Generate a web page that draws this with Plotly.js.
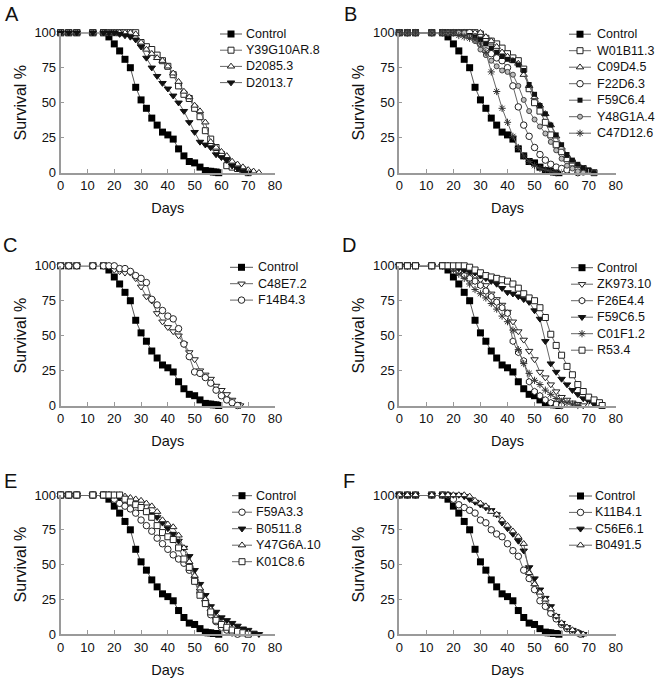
<!DOCTYPE html>
<html><head><meta charset="utf-8">
<script src="https://cdn.plot.ly/plotly-3.0.1.min.js"></script>
<style>html,body{margin:0;padding:0;background:#fff}</style>
</head><body><div id="chart" style="width:659px;height:679px"></div>
<script>
// ---- day grids ----
const daysCtrl = [0,3,6,12,16,18,20,22,24,26,28,30,32,34,36,38,40,42,44,46,48,50,52,54,55,56,57,58,59];
const days58 = [0,3,6,12,16,18,20,22,24,26,28,30,32,34,36,38,40,42,44,46,48,50,52,54,56,58];
const days60 = [0,3,6,12,16,18,20,22,24,26,28,30,32,34,36,38,40,42,44,46,48,50,52,54,56,58,60];
const days66 = [0,3,6,12,16,18,20,22,24,26,28,30,32,34,36,38,40,42,44,46,48,50,52,54,56,58,60,62,64,66];
const days67 = [0,3,6,12,16,18,20,22,24,26,28,30,32,34,36,38,40,42,44,46,48,50,52,54,56,58,60,62,64,66,67];
const days68 = [0,3,6,12,16,18,20,22,24,26,28,30,32,34,36,38,40,42,44,46,48,50,52,54,56,58,60,62,64,66,68];
const days70 = [0,3,6,12,16,18,20,22,24,26,28,30,32,34,36,38,40,42,44,46,48,50,52,54,56,58,60,62,64,66,68,70];
const days72 = [0,3,6,12,16,18,20,22,24,26,28,30,32,34,36,38,40,42,44,46,48,50,52,54,56,58,60,62,64,66,68,70,72];
const days74 = [0,3,6,12,16,18,20,22,24,26,28,30,32,34,36,38,40,42,44,46,48,50,52,54,56,58,60,62,64,66,68,70,72,74];
const days75 = [0,3,6,12,16,18,20,22,24,26,28,30,32,34,36,38,40,42,44,46,48,50,52,54,56,58,60,62,64,66,68,70,72,74,75];

// ---- survival (%) ----
const survControl = [100,100,100,100,100,97,92,87,81,75,61,52,46,39,34,29,27,24,17,12,8,7,4,1.5,1,1,0.5,0.5,0];
// Panel A
const survY39G10AR8 = [100,100,100,100,100,100,100,100,100,100,100,93,90,88,84,80,76,70,62,56,53,46,40,30,24,18,13,5,4,3,2,0];
const survD20853 = [100,100,100,100,100,100,100,100,100,100,99,93,88,85,82,80,76,71,65,58,54,48,44,36,22,18,15,12,8,6,4,2,1,0];
const survD20137 = [100,100,100,100,100,100,100,99,98,97,95,90,82,75,69,64,60,55,50,44,36,29,22,20,18,13,11,9,5,3,1,0];
// Panel B
const survW01B113 = [100,100,100,100,100,100,100,100,100,100,100,99,96,94,92,89,85,82,80,74,60,50,44,36,27,20,15,10,7,4,3,1,0];
const survC09D45 = [100,100,100,100,100,100,100,100,100,100,100,100,97,94,90,86,83,80,78,70,62,54,48,42,34,26,18,12,8,5,3,1,0];
const survF22D63 = [100,100,100,100,100,100,100,100,100,100,97,92,87,85,82,80,75,62,47,34,26,18,13,9,6,4,3,2,1,0];
const survF59C64 = [100,100,100,100,100,100,100,100,100,98,97,95,92,89,86,83,81,80,77,73,63,56,48,42,34,27,20,13,9,6,3,2,0];
const survY48G1A4 = [100,100,100,100,100,100,100,100,100,97,94,88,84,80,76,73,72,70,62,52,44,38,33,28,22,16,10,5,3,1,0];
const survC47D126 = [100,100,100,100,100,100,100,98,97,96,95,92,86,72,58,46,36,26,18,12,8,5,3,2,1,0];
// Panel C
const survC48E72 = [100,100,100,100,100,100,97,96,95,95,91,85,78,75,66,60,56,53,50,44,38,33,25,22,19,14,11,8,4,1,0];
const survF14B43 = [100,100,100,100,100,100,100,98,98,96,93,91,88,76,72,68,64,62,55,44,35,24,23,20,16,11,7,4,2,0];
// Panel D
const survZK97310 = [100,100,100,100,100,100,100,98,97,95,93,90,86,80,76,72,67,60,53,47,39,33,24,20,15,10,6,4,2,1,0];
const survF26E44 = [100,100,100,100,100,100,98,96,93,91,89,86,82,78,74,70,66,46,38,32,17,10,7,4,2,1,0];
const survF59C65 = [100,100,100,100,100,100,100,98,97,96,95,93,91,89,87,84,81,80,78,76,74,68,62,46,30,24,19,15,11,8,5,3,1,0];
const survC01F12 = [100,100,100,100,100,100,97,94,91,87,83,80,77,73,69,64,60,54,40,30,23,18,15,11,8,5,3,2,1,0];
const survR534 = [100,100,100,100,100,100,100,100,100,99,97,95,93,92,91,90,89,87,84,80,77,75,70,63,51,43,36,28,22,15,10,6,4,2,0];
// Panel E
const survF59A33 = [100,100,100,100,100,100,97,94,92,90,87,82,78,74,69,65,61,57,54,51,46,39,30,24,14,9,5,3,1,0];
const survB05118 = [100,100,100,100,100,100,100,98,97,96,94,91,88,86,84,80,76,72,67,62,56,46,36,28,20,16,12,10,8,6,4,3,1,0];
const survY47G6A10 = [100,100,100,100,100,100,100,100,99,98,97,96,94,92,88,82,79,77,71,62,52,42,33,25,18,12,8,5,3,2,1,0];
const survK01C86 = [100,100,100,100,100,100,100,100,97,95,93,91,88,84,78,73,70,68,62,54,48,38,28,22,16,10,7,5,3,2,1,0];
// Panel F
const survK11B41 = [100,100,100,100,100,100,97,93,91,89,87,82,80,75,72,70,65,60,56,46,40,32,24,20,15,11,7,4,2,1,0];
const survC56E61 = [100,100,100,100,100,100,100,100,99,97,95,93,91,89,86,80,76,72,67,60,48,40,32,26,20,13,8,5,3,1,0];
const survB04915 = [100,100,100,100,100,100,100,100,100,99,96,94,92,88,86,82,78,74,70,65,44,36,30,25,18,13,8,5,3,1,0];

const panelLabels = ['A','B','C','D','E','F'];
const xTickVals = [0,10,20,30,40,50,60,70,80];
const yTickVals = [0,25,50,75,100];

// ---- marker styles ----
const edge = {color:'#222', width:1};
const STY = {
  ctrl:     {symbol:'square', size:7, color:'#000', line:{color:'#000', width:0}},
  sqOpen:   {symbol:'square', size:6, color:'#fff', line:edge},
  triOpen:  {symbol:'triangle-up', size:6.5, color:'#fff', line:edge},
  triDownF: {symbol:'triangle-down', size:6.5, color:'#111', line:{color:'#111', width:1}},
  triDownO: {symbol:'triangle-down', size:6.5, color:'#fff', line:edge},
  circOpen: {symbol:'circle', size:6.5, color:'#fff', line:edge},
  circSm:   {symbol:'circle', size:5, color:'#bbb', line:{color:'#444', width:1}},
  sqSmF:    {symbol:'square', size:5, color:'#111', line:{color:'#111', width:0}},
  star:     {symbol:'asterisk-open', size:6, color:'#333', line:{color:'#333', width:1}},
  hexOpen:  {symbol:'hexagon', size:6.5, color:'#fff', line:edge}
};

const panels = [
  [ ['Control',daysCtrl,survControl,'ctrl'], ['Y39G10AR.8',days70,survY39G10AR8,'sqOpen'], ['D2085.3',days74,survD20853,'triOpen'], ['D2013.7',days70,survD20137,'triDownF'] ],
  [ ['Control',daysCtrl,survControl,'ctrl'], ['W01B11.3',days72,survW01B113,'sqOpen'], ['C09D4.5',days72,survC09D45,'triOpen'], ['F22D6.3',days66,survF22D63,'circOpen'], ['F59C6.4',days72,survF59C64,'sqSmF'], ['Y48G1A.4',days68,survY48G1A4,'circSm'], ['C47D12.6',days58,survC47D126,'star'] ],
  [ ['Control',daysCtrl,survControl,'ctrl'], ['C48E7.2',days67,survC48E72,'triDownO'], ['F14B4.3',days66,survF14B43,'circOpen'] ],
  [ ['Control',daysCtrl,survControl,'ctrl'], ['ZK973.10',days68,survZK97310,'triDownO'], ['F26E4.4',days60,survF26E44,'hexOpen'], ['F59C6.5',days74,survF59C65,'triDownF'], ['C01F1.2',days66,survC01F12,'star'], ['R53.4',days75,survR534,'sqOpen'] ],
  [ ['Control',daysCtrl,survControl,'ctrl'], ['F59A3.3',days66,survF59A33,'circOpen'], ['B0511.8',days74,survB05118,'triDownF'], ['Y47G6A.10',days70,survY47G6A10,'triOpen'], ['K01C8.6',days70,survK01C86,'sqOpen'] ],
  [ ['Control',daysCtrl,survControl,'ctrl'], ['K11B4.1',days67,survK11B41,'circOpen'], ['C56E6.1',days68,survC56E61,'triDownF'], ['B0491.5',days68,survB04915,'triOpen'] ]
];

// ---- geometry (pixels) ----
const W = 659, H = 679;
const colX = [[60.7,275],[399.3,615.7]];
const rowY = [[32.7,172.7],[265.8,405.5],[495,634.2]];
// legend key: line start, line end, text start, first row y, row step
const legendGeom = [
  [220,242,244,34,16.2],
  [569,591,595,34.2,16.5],
  [230,253,256,267.3,16.4],
  [571,593,595,267.7,16.5],
  [232,252,254,495.7,16.5],
  [569,592,593,496,16.4]
];
const labelPos = [[12,14],[350,14],[10,245],[349,245],[10,481],[349,481]];

const FONT = 'Liberation Sans, Arial, Helvetica, sans-serif';
const traces = [];
const layout = {
  width: W, height: H, margin:{l:0,r:0,t:0,b:0},
  paper_bgcolor:'#fff', plot_bgcolor:'rgba(0,0,0,0)',
  font:{family:FONT, color:'#111', size:13},
  showlegend:false, annotations:[],
  // overlay in pixel units used only for the legend keys
  xaxis7:{domain:[0,1], range:[0,W], visible:false, fixedrange:true, anchor:'y7'},
  yaxis7:{domain:[0,1], range:[H,0], visible:false, fixedrange:true, anchor:'x7'}
};

panels.forEach((series, p) => {
  const k = p === 0 ? '' : String(p+1);
  const col = p % 2, row = Math.floor(p/2);
  const xd = [colX[col][0]/W, colX[col][1]/W];
  const yd = [1 - rowY[row][1]/H, 1 - rowY[row][0]/H];
  layout['xaxis'+k] = {
    domain: xd, anchor: 'y'+k, range:[0,80], tickvals:xTickVals,
    ticks:'inside', ticklen:4, tickwidth:1, tickcolor:'#999',
    showline:true, linecolor:'#9a9a9a', linewidth:2, showgrid:false, zeroline:false,
    tickfont:{size:13, color:'#111'},
    title:{text:'Days', font:{size:14.5, color:'#111'}, standoff:11}
  };
  layout['yaxis'+k] = {
    domain: yd, anchor: 'x'+k, range:[0,100], tickvals:yTickVals,
    ticks:'inside', ticklen:3, tickwidth:1, tickcolor:'#999',
    showline:true, linecolor:'#9a9a9a', linewidth:2, showgrid:false, zeroline:false,
    tickfont:{size:13, color:'#111'},
    title:{text:'Survival %', font:{size:16, color:'#111'}, standoff:4}
  };
  series.forEach(([name, d, s, st]) => {
    traces.push({
      type:'scatter', mode:'lines+markers', name:name, x:d, y:s,
      xaxis:'x'+k, yaxis:'y'+k, cliponaxis:false, showlegend:false,
      line:{color: st==='ctrl' ? '#555' : '#666', width:1},
      marker:STY[st]
    });
  });
  // legend keys
  const [lx0, lx1, tx, ly0, dy] = legendGeom[p];
  series.forEach(([name, d, s, st], i) => {
    const yy = ly0 + i*dy;
    traces.push({
      type:'scatter', mode:'lines', x:[lx0, lx1], y:[yy, yy], xaxis:'x7', yaxis:'y7',
      showlegend:false, cliponaxis:false, line:{color: st==='ctrl' ? '#555' : '#666', width:1}
    });
    traces.push({
      type:'scatter', mode:'markers', x:[(lx0+lx1)/2], y:[yy], xaxis:'x7', yaxis:'y7',
      showlegend:false, cliponaxis:false, marker:STY[st]
    });
    layout.annotations.push({
      text:name, xref:'paper', yref:'paper', x:tx/W, y:1-yy/H,
      xanchor:'left', yanchor:'middle', showarrow:false,
      font:{size:12.5, color:'#111'}
    });
  });
  layout.annotations.push({
    text: panelLabels[p], xref:'paper', yref:'paper',
    x: labelPos[p][0]/W, y: 1 - labelPos[p][1]/H, xanchor:'center', yanchor:'middle',
    showarrow:false, font:{size:20, color:'#111'}
  });
});

Plotly.newPlot('chart', traces, layout, {staticPlot:true, displayModeBar:false});
</script>
</body></html>
